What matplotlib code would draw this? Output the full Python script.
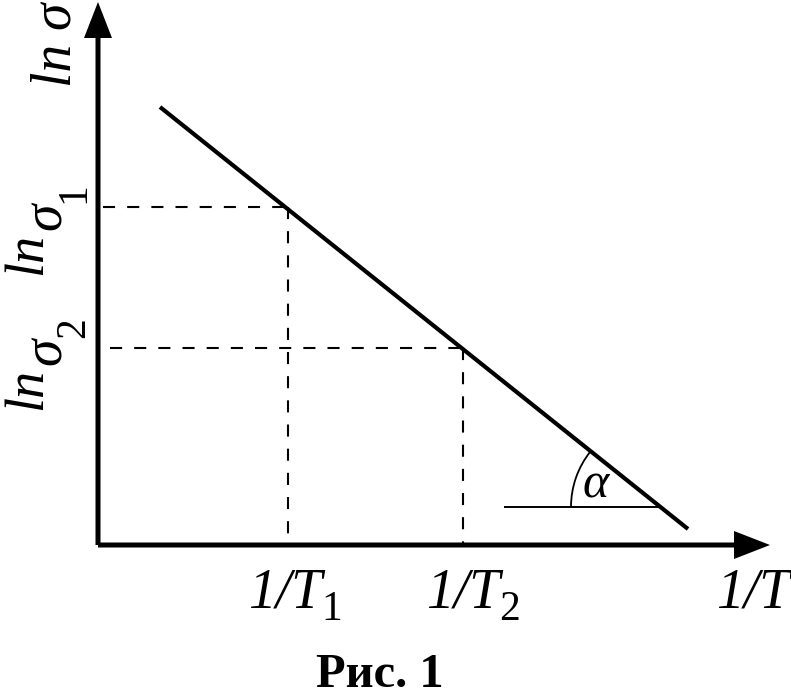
import numpy as np
import matplotlib
matplotlib.use("Agg")
import matplotlib.pyplot as plt
from matplotlib.patches import Arc

# schematic values, axis origin at (0, 0); units are the sketch's own
x_axis_len = 672
y_axis_len = 543
line_x = [62, 590]          # straight ln(sigma) vs 1/T line
line_y = [438, 16]
inv_T = [190, 365]          # 1/T1, 1/T2
ln_sigma = [338, 197]       # ln sigma1, ln sigma2
ref_y = 38                  # horizontal reference for the angle
ref_x = [407, 562]
arc_r = 89
T_labels = ["1", "2"]
sigma_labels = ["1", "2"]

serif = "Liberation Serif"

fig = plt.figure(figsize=(7.91, 6.99), dpi=100)
ax = fig.add_axes([0, 0, 1, 1])
ax.set_xlim(-98, 693)
ax.set_ylim(-154, 545)
ax.axis("off")

# axes with arrows
ax.arrow(0, 0, x_axis_len, 0, width=5, head_width=28, head_length=36,
         length_includes_head=True, color="black", lw=0)
ax.arrow(0, 0, 0, y_axis_len, width=5, head_width=28, head_length=36,
         length_includes_head=True, color="black", lw=0)

# main line
ax.plot(line_x, line_y, color="black", lw=3.0, solid_capstyle="butt")

# dashed guides
dash = (0, (5.8, 5.8))
for xv, yv, x0 in zip(inv_T, ln_sigma, [5, 12]):
    ax.plot([x0, xv], [yv, yv], color="black", lw=1.5, ls=dash)
    ax.plot([xv, xv], [yv, 0], color="black", lw=1.5, ls=dash)

# angle alpha
ax.plot(ref_x, [ref_y, ref_y], color="black", lw=1.4)
slope = (line_y[0] - line_y[1]) / (line_x[1] - line_x[0])
ang = np.degrees(np.arctan(slope))
ax.add_patch(Arc((ref_x[1], ref_y), 2 * arc_r, 2 * arc_r, theta1=180 - ang,
                 theta2=180, color="black", lw=1.3))
ax.text(498, 60, "α", family=serif, style="italic", fontsize=36,
        ha="center", va="center")

# x labels
for xv, sub in zip(inv_T, T_labels):
    right = xv + 34 if sub == "1" else xv + 37
    ax.text(right, -62, "1/T", family=serif, style="italic", fontsize=40,
            ha="right", va="baseline")
    ax.text(right - 1, -75, sub, family=serif, fontsize=30,
            ha="left", va="baseline")
ax.text(692, -62, "1/T", family=serif, style="italic", fontsize=40,
        ha="right", va="baseline")

# y labels (rotated)
ax.text(-28, 458, "ln σ", family=serif, style="italic", fontsize=40,
        rotation=90, rotation_mode="anchor", ha="left", va="baseline")
for yv, sub, base in zip(ln_sigma, sigma_labels, [270, 135]):
    ax.text(-57, base, "ln", family=serif, style="italic", fontsize=39,
            rotation=90, rotation_mode="anchor", ha="left", va="baseline")
    ax.text(-37, base + 45, "σ", family=serif, style="italic", fontsize=40,
            rotation=90, rotation_mode="anchor", ha="left", va="baseline")
    ax.text(-14, base + 72, sub, family=serif, fontsize=30,
            rotation=90, rotation_mode="anchor", ha="left", va="baseline")

ax.text(282, -142, "Рис. 1", family=serif, weight="bold", fontsize=35,
        ha="center", va="baseline")

fig.savefig("out.png", dpi=100)
